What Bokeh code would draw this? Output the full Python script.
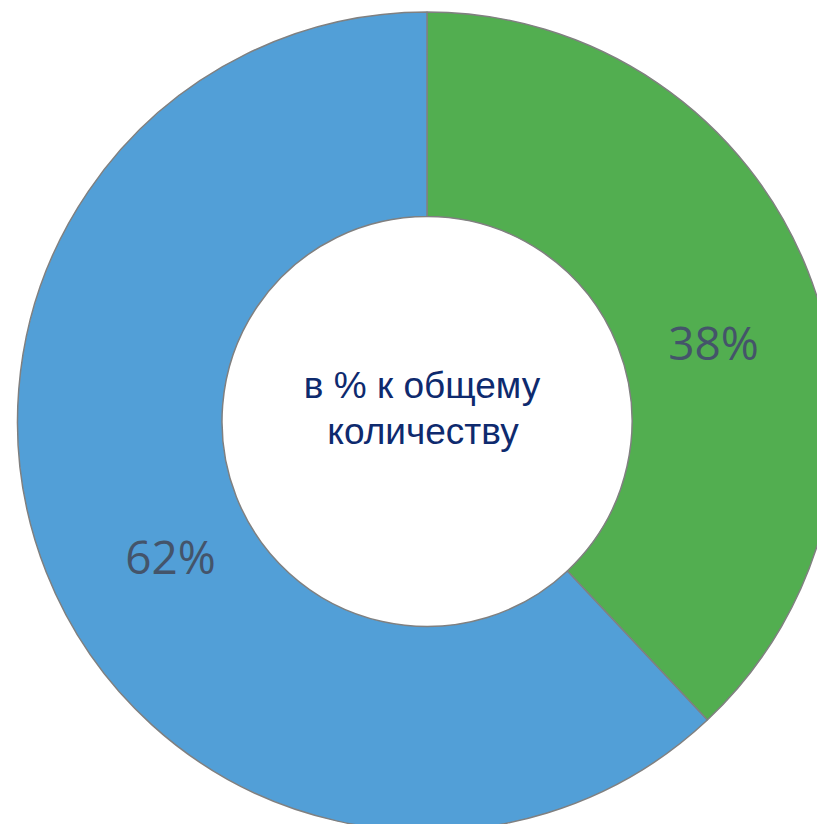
import math
from bokeh.plotting import figure
from bokeh.models import Range1d, ColumnDataSource
from bokeh.core.properties import value
from bokeh.embed import file_html
from bokeh.resources import INLINE

# Data
categories = ["Группа A", "Группа B"]
shares = [38, 62]
colors = ["#52AE50", "#529FD7"]
labels = ["38%", "62%"]
center_lines = ["в % к общему", "количеству"]

W, H = 817, 824
TOTAL_H = 832
p = figure(width=W, height=H, output_backend="svg", toolbar_location=None,
           x_range=Range1d(0, W), y_range=Range1d(TOTAL_H - H, TOTAL_H),
           min_border=0, match_aspect=False)
p.axis.visible = False
p.grid.visible = False
p.outline_line_color = None
p.background_fill_color = "white"
p.border_fill_color = "white"

cx, cy = 426.5, TOTAL_H - 421.0
r_out, r_in = 409.5, 205.0

total = sum(shares)
starts, ends, mids = [], [], []
ang = math.pi / 2
for s in shares:
    a = s / total * 2 * math.pi
    starts.append(ang - a)
    ends.append(ang)
    mids.append(ang - a / 2)
    ang -= a

src = ColumnDataSource(dict(start=starts, end=ends, color=colors, cat=categories))
p.annular_wedge(x=cx, y=cy, inner_radius=r_in, outer_radius=r_out,
                start_angle="start", end_angle="end", fill_color="color",
                line_color="#808080", line_width=1.5, source=src)

lab_r = 292
lx = [cx + lab_r * math.cos(m) + 15 for m in mids]
ly = [cy + lab_r * math.sin(m) - 27.5 for m in mids]
p.text(x=lx, y=ly, text=labels, text_font=value("Open Sans"),
       text_font_size="46px", text_color="#44546A",
       text_align="center", text_baseline="alphabetic")

p.text(x=[cx - 5, cx - 4], y=[cy + 36, cy - 10], text=center_lines,
       text_font=value("Liberation Sans"), text_font_size="37px",
       text_color="#0E2A6E", text_align="center", text_baseline="alphabetic")

open("out.html", "w").write(file_html(p, INLINE))
